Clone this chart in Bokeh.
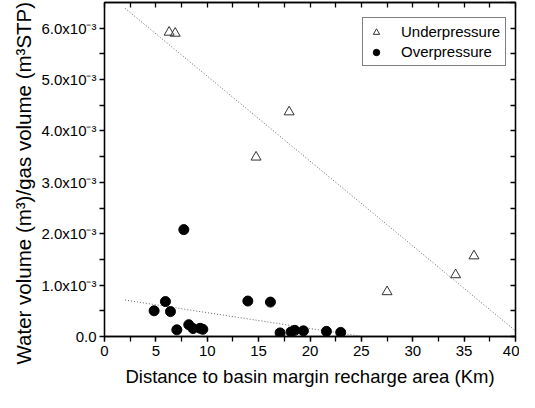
import numpy as np
from bokeh.plotting import figure
from bokeh.models import (Range1d, LinearAxis, SingleIntervalTicker, FixedTicker,
                          Legend, LegendItem, CustomJSTickFormatter, Title)
from bokeh.embed import file_html
from bokeh.resources import INLINE

# Data (x: distance in km, y: water/gas volume ratio)
under_x = [6.29, 6.88, 17.97, 14.75, 35.96, 34.17, 27.5]
under_y = [5.92e-3, 5.90e-3, 4.37e-3, 3.49e-3, 1.567e-3, 1.20e-3, 0.87e-3]

over_x = [4.83, 5.93, 6.42, 7.04, 7.72, 8.2, 8.62, 9.3, 9.57, 13.95, 16.15,
          17.09, 18.16, 18.52, 19.36, 21.6, 22.99]
over_y = [0.50e-3, 0.68e-3, 0.485e-3, 0.13e-3, 2.08e-3, 0.23e-3, 0.155e-3,
          0.16e-3, 0.14e-3, 0.69e-3, 0.67e-3, 0.07e-3, 0.09e-3, 0.12e-3,
          0.11e-3, 0.10e-3, 0.08e-3]

fit_x = [2, 40]  # range over which the linear fits are drawn

y_tick_vals = [0, 1e-3, 2e-3, 3e-3, 4e-3, 5e-3, 6e-3]
y_tick_labels = ["0.0", "1.0x10\u207b\u00b3", "2.0x10\u207b\u00b3", "3.0x10\u207b\u00b3",
                 "4.0x10\u207b\u00b3", "5.0x10\u207b\u00b3", "6.0x10\u207b\u00b3"]
y_minor_vals = [0.5e-3, 1.5e-3, 2.5e-3, 3.5e-3, 4.5e-3, 5.5e-3]
right_tick_vals = sorted(y_tick_vals + y_minor_vals + [6.5e-3])

FONT = "Liberation Sans"
INK = "black"

p = figure(width=519, height=392, output_backend="svg", toolbar_location=None,
           x_range=Range1d(0, 40), y_range=Range1d(0, 6.5e-3),
           min_border_left=104, min_border_right=4, min_border_top=2,
           min_border_bottom=56)
p.grid.visible = False
p.outline_line_color = INK
p.outline_line_width = 1.3
p.background_fill_color = "white"
p.border_fill_color = "white"


def fit(xs, ys):
    m, b = np.polyfit(xs, ys, 1)
    return [m * x + b for x in fit_x]


p.line(fit_x, fit(under_x, under_y), line_color="#666666", line_width=1,
       line_dash="1 2")
p.line(fit_x, fit(over_x, over_y), line_color="#666666", line_width=1,
       line_dash="1 2")

r_under = p.scatter(under_x, under_y, marker="triangle", size=10,
                    fill_color=None, line_color="#333333", line_width=1)
r_over = p.scatter(over_x, over_y, marker="circle", size=10,
                   fill_color="black", line_color="black")


def style_axis(a):
    a.axis_line_color = INK
    a.major_tick_line_color = INK
    a.minor_tick_line_color = INK
    a.axis_line_width = 1.3
    a.major_tick_line_width = 1.3
    a.minor_tick_line_width = 1.3
    a.major_label_text_color = INK
    a.axis_label_text_color = INK


# Bottom axis
xa = p.xaxis[0]
xa.ticker = SingleIntervalTicker(interval=5, num_minor_ticks=2)
xa.axis_label = "Distance to basin margin recharge area (Km)"
xa.axis_label_text_font = FONT
xa.axis_label_text_font_size = "18.5px"
xa.axis_label_text_font_style = "normal"
xa.axis_label_standoff = 7
xa.major_label_text_font = FONT
xa.major_label_text_font_size = "15px"
xa.major_label_standoff = 4
xa.major_tick_out = 5
xa.major_tick_in = 0
xa.minor_tick_out = 5
xa.minor_tick_in = 0
style_axis(xa)

# Left axis
ya = p.yaxis[0]
ya.ticker = FixedTicker(ticks=y_tick_vals, minor_ticks=y_minor_vals)
ya.major_label_overrides = dict(zip(y_tick_vals, y_tick_labels))
ya.major_label_text_font = FONT
ya.major_label_text_font_size = "15px"
ya.major_label_standoff = 3
ya.major_tick_out = 5
ya.major_tick_in = 0
ya.minor_tick_out = 5
ya.minor_tick_in = 0
style_axis(ya)

# Y-axis title: starts a little below the frame bottom, as in the reference
ytitle = Title(text="Water volume (m\u00b3)/gas volume (m\u00b3STP)",
               align="left", offset=-28, text_font=FONT,
               text_font_size="20.5px", text_font_style="normal",
               text_color=INK, standoff=8)
p.add_layout(ytitle, "left")

blank = CustomJSTickFormatter(code="return '';")

# Top axis (inward ticks, no labels)
top = LinearAxis(ticker=SingleIntervalTicker(interval=2.5, num_minor_ticks=0),
                 formatter=blank, major_label_standoff=0,
                 major_tick_in=5, major_tick_out=0, minor_tick_in=0,
                 minor_tick_out=0)
style_axis(top)
p.add_layout(top, "above")

right = LinearAxis(ticker=FixedTicker(ticks=right_tick_vals),
                   formatter=blank, major_label_standoff=0,
                   major_tick_in=5, major_tick_out=0, minor_tick_in=0,
                   minor_tick_out=0)
style_axis(right)
p.add_layout(right, "right")

legend = Legend(items=[LegendItem(label="Underpressure", renderers=[r_under]),
                       LegendItem(label="Overpressure", renderers=[r_over])],
                location=(258, 270))
legend.label_text_font = FONT
legend.label_text_font_size = "15px"
legend.label_text_color = INK
legend.border_line_color = INK
legend.border_line_width = 1
legend.margin = 0
legend.padding = 5
legend.spacing = 3
legend.label_height = 16
legend.glyph_height = 16
legend.glyph_width = 16
legend.label_standoff = 17
legend.background_fill_alpha = 1
p.add_layout(legend)

open("out.html", "w").write(file_html(p, INLINE))
